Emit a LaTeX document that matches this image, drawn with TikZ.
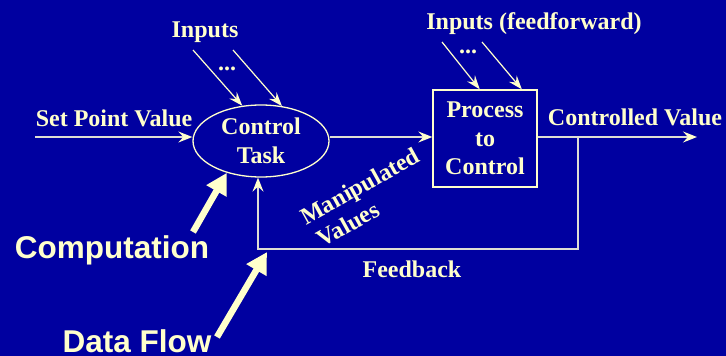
\documentclass[tikz,border=0pt]{standalone}
\usepackage{fontspec}
\setmainfont{Liberation Serif}
\newfontfamily\headsans{Liberation Sans}
\usetikzlibrary{arrows.meta,calc,shapes.geometric}

\definecolor{slidebg}{RGB}{0,0,160}
\definecolor{cream}{RGB}{255,255,204}
\definecolor{wire}{RGB}{222,222,212}

\tikzset{
  lbl/.style={text=cream, font=\fontsize{24}{29}\selectfont\bfseries, inner sep=0pt},
  bigword/.style={text=cream, font=\headsans\fontsize{31.5}{36}\selectfont\bfseries, inner sep=0pt, anchor=base},
  flow/.style={draw=wire, line width=1.6pt, -{Stealth[length=14pt,width=11pt,inset=5pt,fill=cream,color=cream]}},
  inarrow/.style={draw=cream, line width=1.2pt, -{Stealth[length=14pt,width=10pt,inset=5pt]}},
  pointer/.style={draw=cream, line width=6.5pt, -{Triangle[length=21pt,width=22pt]}},
}

\begin{document}
\begin{tikzpicture}[x=1pt,y=-1pt]
  \fill[slidebg] (0,0) rectangle (726,356);
  \useasboundingbox (0,0) rectangle (726,356);

  % main blocks
  \node[lbl, draw=cream, line width=1.3pt, ellipse, minimum width=136pt, minimum height=72pt,
        align=center] (ct) at (261,141) {Control\\Task};
  \node[lbl, draw=cream, line width=1.3pt, rectangle, minimum width=104pt, minimum height=97pt,
        align=center, font=\fontsize{24}{28.5}\selectfont\bfseries] (pb) at (485,138.5) {Process\\to\\Control};

  % labels
  \node[lbl, anchor=base] (sp) at (114,126) {Set Point Value};
  \node[lbl, anchor=base] (inA) at (205,37) {Inputs};
  \node[lbl, anchor=base] (dotsA) at (227,70) {...};
  \node[lbl, anchor=base] (inB) at (534,29) {Inputs (feedforward)};
  \node[lbl, anchor=base] (dotsB) at (468,53) {...};
  \node[lbl, anchor=base] (cv) at (635,125) {Controlled Value};
  \node[lbl, anchor=base] (fbl) at (412,277) {Feedback};
  \node[lbl, rotate=29] (mv1) at (361,188) {Manipulated};
  \node[lbl, rotate=29] (mv2) at (348,224) {Values};
  \node[bigword] (comp) at (112,258) {Computation};
  \node[bigword] (dflow) at (137,352) {Data Flow};

  % connector end points
  \coordinate (mainy) at (0,137);
  \coordinate (spstart) at (35,137);
  \coordinate (outend) at (697,137);
  \coordinate (tap) at (578,137);
  \coordinate (fbcorner) at (578,249);
  \coordinate (fbup) at (258,249);
  \coordinate (a1) at (193,50);
  \coordinate (a2) at (233,50);
  \coordinate (b1) at (442,42);
  \coordinate (b2) at (482,42);
  \coordinate (compTail) at (193,232);
  \coordinate (flowTail) at (217,337);
  \coordinate (flowTip) at (267,252);

  % signal path
  \draw[flow] (spstart) -- (spstart -| ct.west);
  \draw[flow] (mainy -| ct.east) -- (mainy -| pb.west);
  \draw[flow] (mainy -| pb.east) -- (outend);
  \draw[flow] (tap) -- (fbcorner) -- (fbup) -- (fbup |- ct.south);

  % inputs
  \draw[inarrow] (a1) -- (ct.118);
  \draw[inarrow] (a2) -- (ct.59);
  \draw[inarrow] (b1) -- ($(pb.north west)!0.45!(pb.north east)$);
  \draw[inarrow] (b2) -- ($(pb.north west)!0.85!(pb.north east)$);

  % pointers
  \draw[pointer] (compTail) -- (ct.223);
  \draw[pointer] (flowTail) -- (flowTip);
\end{tikzpicture}
\end{document}
